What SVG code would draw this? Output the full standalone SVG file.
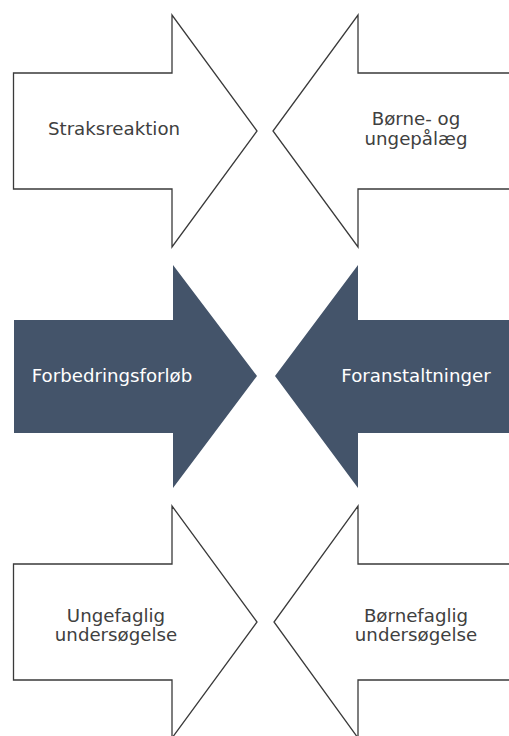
<svg xmlns="http://www.w3.org/2000/svg" width="509" height="736" viewBox="0 0 509 736">
<style>
.outline{fill:#ffffff;stroke:#3a3a3a;stroke-width:1.3;stroke-linejoin:miter}
.solid{fill:#44546a;stroke:none}
.t{font-family:"DejaVu Sans","Liberation Sans",sans-serif;font-size:18.2px;text-anchor:middle}
.dk{fill:#404040}
.lt{fill:#ffffff}
</style>
<rect width="509" height="736" fill="#ffffff"/>
<g id="straksreaktion">
<path class="outline" d="M13.5,73 H172 V15 L257,131 L172,247 V189 H13.5 Z"/>
<text class="t dk" x="114" y="135">Straksreaktion</text>
</g>
<g id="borne-og-ungepalaeg">
<path class="outline" d="M515,73 H358 V15 L273,131 L358,247 V189 H515"/>
<text class="t dk" x="416" y="125">Børne- og</text>
<text class="t dk" x="416" y="145">ungepålæg</text>
</g>
<g id="forbedringsforlob">
<path class="solid" d="M14,320 H173 V265 L257,376 L173,488 V433 H14 Z"/>
<text class="t lt" x="112" y="382">Forbedringsforløb</text>
</g>
<g id="foranstaltninger">
<path class="solid" d="M515,320 H358 V265 L275,376 L358,488 V433 H515 Z"/>
<text class="t lt" x="416" y="382">Foranstaltninger</text>
</g>
<g id="ungefaglig-undersogelse">
<path class="outline" d="M13.5,564 H172 V506 L257,622 L172,738 V680 H13.5 Z"/>
<text class="t dk" x="116" y="622">Ungefaglig</text>
<text class="t dk" x="116" y="641">undersøgelse</text>
</g>
<g id="bornefaglig-undersogelse">
<path class="outline" d="M515,564 H358 V506 L274,622 L358,738 V680 H515"/>
<text class="t dk" x="416" y="622">Børnefaglig</text>
<text class="t dk" x="416" y="641">undersøgelse</text>
</g>
<g id="connectors"/>
</svg>
